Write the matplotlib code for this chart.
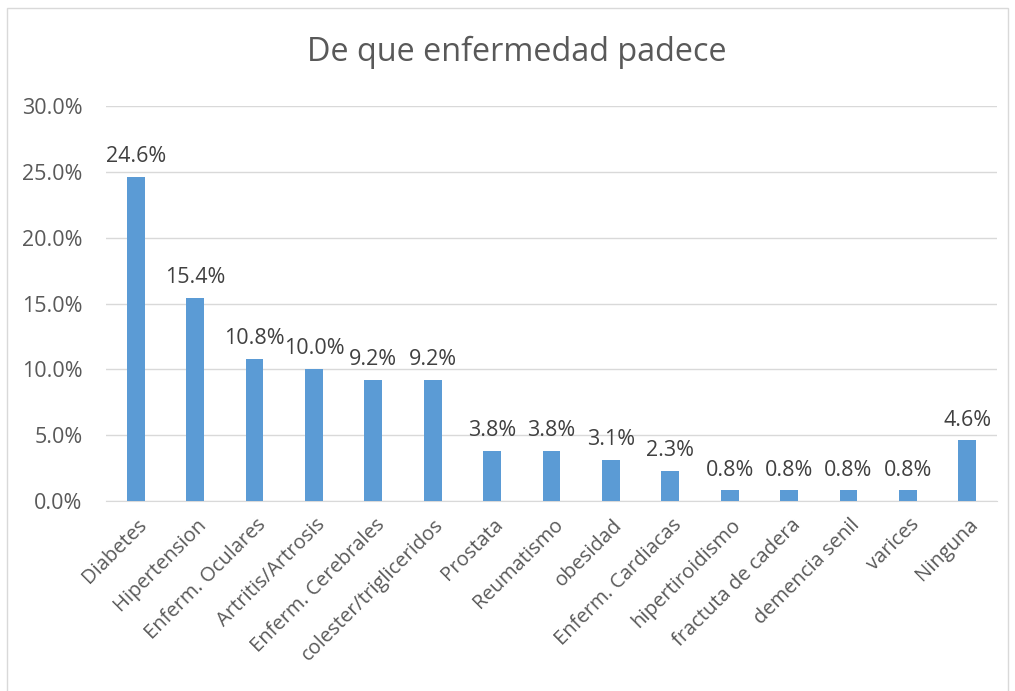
import matplotlib
matplotlib.use("Agg")
import matplotlib.pyplot as plt
import numpy as np

categorias = ["Diabetes", "Hipertension", "Enferm. Oculares", "Artritis/Artrosis",
              "Enferm. Cerebrales", "colester/trigliceridos", "Prostata", "Reumatismo",
              "obesidad", "Enferm. Cardiacas", "hipertiroidismo", "fractuta de cadera",
              "demencia senil", "varices", "Ninguna"]
valores = [24.6, 15.4, 10.8, 10.0, 9.2, 9.2, 3.8, 3.8, 3.1, 2.3, 0.8, 0.8, 0.8, 0.8, 4.6]
yticks = [0, 5, 10, 15, 20, 25, 30]

plt.rcParams['font.family'] = ['Open Sans', 'DejaVu Sans']
txt = '#595959'

fig = plt.figure(figsize=(10.15, 6.91), dpi=100)
# chart border
fig.patches.append(plt.Rectangle((7/1015, -0.1), 1001/1015, 1.1 - 8/691, transform=fig.transFigure,
                                 fill=False, edgecolor='#d9d9d9', linewidth=1))
ax = fig.add_axes([106/1015, 1 - 501/691, 891/1015, 395/691])

x = np.arange(len(categorias))
ax.bar(x, valores, width=0.3, color='#5b9bd5', zorder=3)
for xi, v in zip(x, valores):
    ax.text(xi, v + 0.75, f"{v:.1f}%", ha='center', va='bottom', fontsize=15.5, color='#404040')

ax.set_xlim(-0.5, len(categorias) - 0.5)
ax.set_ylim(0, 30)
ax.set_yticks(yticks)
ax.set_yticklabels([f"{t:.1f}%" for t in yticks], fontsize=15.5, color=txt)
ax.set_xticks(x + 0.02)
ax.set_xticklabels(categorias, rotation=45, ha='right', rotation_mode='anchor',
                   fontsize=14.5, color=txt)
ax.tick_params(axis='both', length=0)
ax.tick_params(axis='y', pad=17)
ax.tick_params(axis='x', pad=10)
ax.grid(axis='y', color='#d9d9d9', linewidth=1, zorder=0)
for s in ['top', 'right', 'left']:
    ax.spines[s].set_visible(False)
ax.spines['bottom'].set_color('#d9d9d9')

fig.text(517/1015, 1 - 52/691, "De que enfermedad padece", ha='center', va='center',
         fontsize=23.3, color=txt)

fig.savefig("out.png", dpi=100)
